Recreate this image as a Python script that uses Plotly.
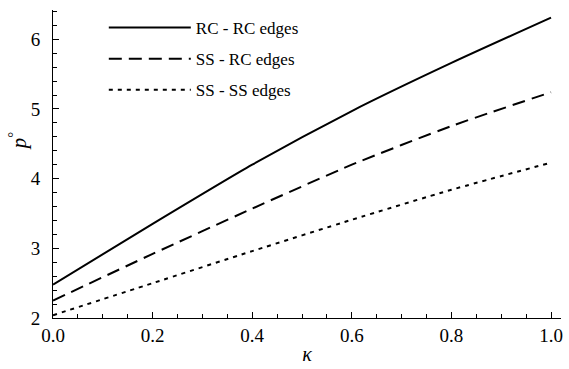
import plotly.graph_objects as go

kappa = [0.0, 0.2, 0.4, 0.6, 0.8, 1.0]
rc_rc = [2.48, 3.35, 4.20, 4.97, 5.66, 6.31]
ss_rc = [2.25, 2.92, 3.57, 4.20, 4.755, 5.24]
ss_ss = [2.04, 2.50, 2.96, 3.41, 3.84, 4.23]

names = ["RC - RC edges", "SS - RC edges", "SS - SS edges"]
series = [rc_rc, ss_rc, ss_ss]
dashes = ["solid", "13px,7px", "4px,5px"]

fig = go.Figure()
for i, (nm, ys, ds) in enumerate(zip(names, series, dashes)):
    fig.add_trace(go.Scatter(
        x=kappa, y=ys, mode="lines", name=nm, legendgroup=nm,
        line=dict(color="black", width=2, dash=ds, shape="spline", smoothing=0.6),
    ))

font = "Liberation Serif"
fig.update_layout(
    width=569, height=369,
    margin=dict(l=53, r=8, t=10, b=51),
    paper_bgcolor="white", plot_bgcolor="white",
    font=dict(family=font, size=18, color="black"),
    showlegend=True,
    legend=dict(x=0.1, y=1.0, xanchor="left", yanchor="top",
                bgcolor="rgba(0,0,0,0)", itemwidth=82, tracegroupgap=6,
                font=dict(family=font, size=17)),
    xaxis=dict(range=[0, 1.02], showline=True, linecolor="black", linewidth=1,
               showgrid=False, zeroline=False, ticks="inside", ticklen=6,
               tickcolor="black", tickvals=[0, 0.2, 0.4, 0.6, 0.8, 1.0],
               tickformat=".1f", automargin=False,
               tickfont=dict(family=font, size=19),
               minor=dict(ticks="inside", ticklen=4, tickcolor="black", dtick=0.05, tick0=0),
               title=dict(text="<i>κ</i>", standoff=2, font=dict(family=font, size=20))),
    yaxis=dict(range=[2, 6.42], showline=True, linecolor="black", linewidth=1,
               showgrid=False, zeroline=False, ticks="inside", ticklen=6,
               tickcolor="black", tickvals=[2, 3, 4, 5, 6], automargin=False,
               tickfont=dict(family=font, size=19), ticklabelstandoff=8,
               minor=dict(ticks="inside", ticklen=4, tickcolor="black", dtick=0.2, tick0=2)),
    annotations=[dict(text="<i>p</i><sup>°</sup>", textangle=-90, showarrow=False,
                      xref="paper", yref="paper", x=-0.068, y=0.575,
                      xanchor="center", yanchor="middle",
                      font=dict(family=font, size=21))],
)

fig.write_html("out.html", config={"displayModeBar": False},
               post_script="document.body.style.margin='0';")
